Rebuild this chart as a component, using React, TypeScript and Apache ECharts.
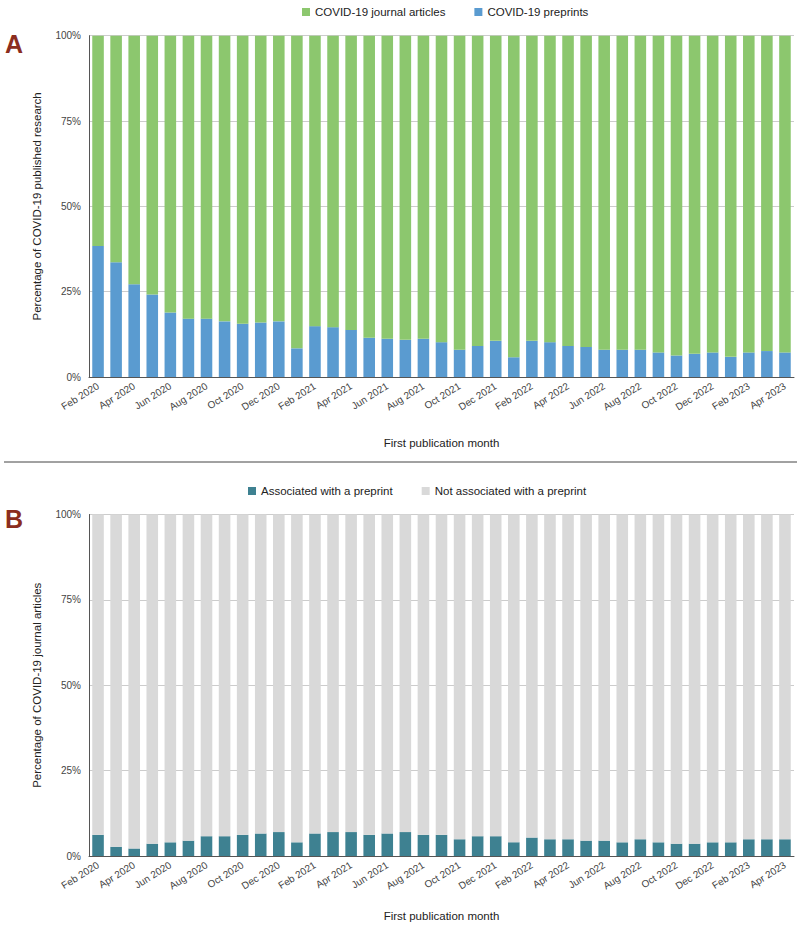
import React, { useEffect, useRef } from "react";
import * as echarts from "echarts";

const months: string[] = [
  "Feb 2020", "Mar 2020", "Apr 2020", "May 2020", "Jun 2020", "Jul 2020", "Aug 2020", "Sep 2020", "Oct 2020", "Nov 2020", "Dec 2020",
  "Jan 2021", "Feb 2021", "Mar 2021", "Apr 2021", "May 2021", "Jun 2021", "Jul 2021", "Aug 2021", "Sep 2021", "Oct 2021", "Nov 2021", "Dec 2021",
  "Jan 2022", "Feb 2022", "Mar 2022", "Apr 2022", "May 2022", "Jun 2022", "Jul 2022", "Aug 2022", "Sep 2022", "Oct 2022", "Nov 2022", "Dec 2022",
  "Jan 2023", "Feb 2023", "Mar 2023", "Apr 2023",
];

// Panel A: share of COVID-19 research that are preprints (%)
const preprintShare: number[] = [
  38.4, 33.6, 27.2, 24.2, 18.9, 17.1, 17.1, 16.3, 15.6, 16.0, 16.3,
  8.4, 14.9, 14.6, 13.8, 11.5, 11.2, 10.9, 11.2, 10.2, 8.0, 9.1, 10.6,
  5.8, 10.6, 10.2, 9.1, 8.8, 8.0, 8.0, 8.0, 7.2, 6.3, 6.8, 7.2,
  5.9, 7.2, 7.6, 7.2,
];

// Panel B: share of journal articles associated with a preprint (%)
const associatedShare: number[] = [
  6.2, 2.7, 2.2, 3.6, 4.0, 4.5, 5.8, 5.8, 6.2, 6.6, 7.0,
  4.0, 6.6, 7.0, 7.0, 6.2, 6.6, 7.0, 6.2, 6.2, 4.9, 5.8, 5.8,
  4.0, 5.4, 4.9, 4.9, 4.5, 4.5, 4.0, 4.9, 4.0, 3.6, 3.6, 4.0,
  4.0, 4.9, 4.9, 4.9,
];

const yTicks: number[] = [0, 25, 50, 75, 100];

const legendA: string[] = ["COVID-19 journal articles", "COVID-19 preprints"];
const legendB: string[] = ["Associated with a preprint", "Not associated with a preprint"];

const COLORS = {
  green: "#8CC76E",
  blue: "#5A9BD0",
  teal: "#3E8191",
  gray: "#D9D9D9",
  letter: "#8B2D1E",
};

const FONT = "Liberation Sans, Arial, sans-serif";

export default function App() {
  const ref = useRef<HTMLDivElement>(null);

  useEffect(() => {
    if (!ref.current) return;
    const chart = echarts.init(ref.current, undefined, { renderer: "svg" });

    const journalShare = preprintShare.map((v) => +(100 - v).toFixed(1));
    const notAssociatedShare = associatedShare.map((v) => +(100 - v).toFixed(1));

    const yAxisBase = (gridIndex: number, name: string) => ({
      type: "value",
      gridIndex,
      min: yTicks[0],
      max: yTicks[yTicks.length - 1],
      interval: 25,
      name,
      nameLocation: "middle",
      nameGap: 46,
      nameTextStyle: { fontSize: 11.5, color: "#222", fontFamily: FONT },
      axisLine: { show: true, lineStyle: { color: "#555", width: 1 } },
      axisTick: { show: false },
      axisLabel: { formatter: "{value}%", fontSize: 10, color: "#444", margin: 8, fontFamily: FONT },
      splitLine: { show: true, lineStyle: { color: "#ccc", width: 1 } },
    });

    const xAxisBase = (gridIndex: number, nameGap: number) => ({
      type: "category",
      gridIndex,
      data: months,
      name: "First publication month",
      nameLocation: "middle",
      nameGap,
      nameTextStyle: { fontSize: 11.5, color: "#222", fontFamily: FONT },
      axisLine: { show: true, lineStyle: { color: "#555", width: 1 } },
      axisTick: { show: false },
      axisLabel: { interval: 1, rotate: 32, fontSize: 10, color: "#444", margin: 8, fontFamily: FONT },
      splitLine: { show: false },
    });

    const legendBase = {
      orient: "horizontal",
      itemWidth: 8,
      itemHeight: 8,
      itemGap: 29,
      icon: "rect",
      textStyle: { fontSize: 11.5, color: "#222", fontFamily: FONT },
      selectedMode: false,
    };

    chart.setOption({
      animation: false,
      backgroundColor: "#fff",
      textStyle: { fontFamily: FONT },
      grid: [
        { left: 89, right: 6, top: 35.7, height: 341.3, containLabel: false },
        { left: 89, right: 6, top: 514.5, height: 341.5, containLabel: false },
      ],
      legend: [
        { ...legendBase, left: 297, top: 1, data: legendA },
        { ...legendBase, left: 243, top: 480, data: legendB },
      ],
      xAxis: [xAxisBase(0, 60), xAxisBase(1, 54)],
      yAxis: [
        yAxisBase(0, "Percentage of COVID-19 published research"),
        yAxisBase(1, "Percentage of COVID-19 journal articles"),
      ],
      series: [
        {
          name: legendA[1],
          type: "bar",
          xAxisIndex: 0,
          yAxisIndex: 0,
          stack: "a",
          data: preprintShare,
          barWidth: "64%",
          itemStyle: { color: COLORS.blue },
        },
        {
          name: legendA[0],
          type: "bar",
          xAxisIndex: 0,
          yAxisIndex: 0,
          stack: "a",
          data: journalShare,
          barWidth: "64%",
          itemStyle: { color: COLORS.green },
        },
        {
          name: legendB[0],
          type: "bar",
          xAxisIndex: 1,
          yAxisIndex: 1,
          stack: "b",
          data: associatedShare,
          barWidth: "64%",
          itemStyle: { color: COLORS.teal },
        },
        {
          name: legendB[1],
          type: "bar",
          xAxisIndex: 1,
          yAxisIndex: 1,
          stack: "b",
          data: notAssociatedShare,
          barWidth: "64%",
          itemStyle: { color: COLORS.gray },
        },
      ],
      graphic: [
        {
          type: "text",
          left: 5,
          top: 31,
          style: { text: "A", fontSize: 25, fontWeight: "bold", fill: COLORS.letter, fontFamily: FONT },
        },
        {
          type: "text",
          left: 5,
          top: 506,
          style: { text: "B", fontSize: 25, fontWeight: "bold", fill: COLORS.letter, fontFamily: FONT },
        },
        {
          type: "line",
          shape: { x1: 4, y1: 462, x2: 797, y2: 462 },
          style: { stroke: "#444", lineWidth: 1 },
        },
      ],
    });

    return () => chart.dispose();
  }, []);

  return (
    <div
      ref={ref}
      style={{ position: "fixed", left: 0, top: 0, width: 800, height: 925, background: "#fff" }}
    />
  );
}
